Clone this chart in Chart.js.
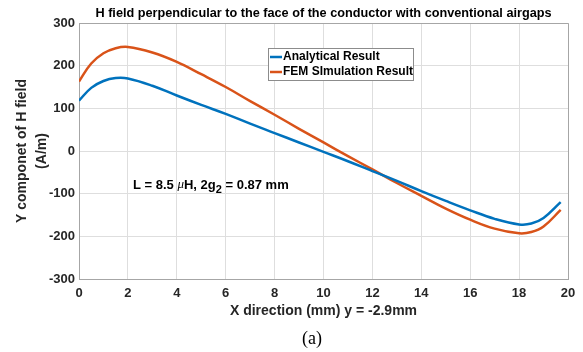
<!DOCTYPE html>
<html>
<head>
<meta charset="utf-8">
<script src="https://cdn.jsdelivr.net/npm/chart.js@4"></script>
<style>
  body { margin: 0; background: #fff; }
  #wrap { position: relative; width: 583px; height: 352px; }
  #caption { position: absolute; left: 0; top: 328px; width: 624px; text-align: center;
             font-family: "Liberation Serif", "DejaVu Serif", serif; font-size: 18px; color: #000; }
</style>
</head>
<body>
<div id="wrap">
  <canvas id="chartH" width="583" height="352"></canvas>
  <div id="caption">(a)</div>
</div>
<script>
// x positions (mm)
const xPos = [0, 0.5, 1, 1.5, 2, 3, 4, 5, 6, 7, 8, 9, 10, 11, 12, 13, 14, 15, 16, 17, 18, 18.5, 19, 19.7];
// Analytical Result
const analytical = [118, 148, 164, 171, 170, 153, 130, 108, 87, 64, 42, 20, -2, -24, -47, -70, -94, -117, -139, -159, -172, -170, -157, -120];
// FEM Simulation Result
const femSim = [163, 205, 229, 241, 244, 231, 209, 180, 150, 117, 85, 52, 20, -12, -43, -75, -105, -135, -161, -182, -193, -190, -177, -138];

const xTicks = [0, 2, 4, 6, 8, 10, 12, 14, 16, 18, 20];
const yTicks = [-300, -200, -100, 0, 100, 200, 300];

const seriesNames = ['Analytical Result', 'FEM SImulation Result'];
const seriesColors = ['#0072BD', '#D95319'];

const titleText = 'H field perpendicular to the face of the conductor with conventional airgaps';
const FONT = '"Liberation Sans", Arial, sans-serif';

const toPoints = (vals) => vals.map((v, i) => ({ x: xPos[i], y: v }));

// title, legend, annotation and the box round the axes
const extrasPlugin = {
  id: 'extras',
  afterDraw(chart) {
    const { ctx, chartArea: a } = chart;
    ctx.save();

    // box (top and right edges)
    ctx.strokeStyle = '#a6a6a6';
    ctx.lineWidth = 1;
    ctx.beginPath();
    ctx.moveTo(a.left, a.top + 0.5);
    ctx.lineTo(a.right + 0.5, a.top + 0.5);
    ctx.lineTo(a.right + 0.5, a.bottom);
    ctx.stroke();

    // title
    ctx.fillStyle = '#000';
    ctx.font = 'bold 12.7px ' + FONT;
    ctx.textAlign = 'center';
    ctx.textBaseline = 'middle';
    ctx.fillText(titleText, (a.left + a.right) / 2, 13);

    // legend
    const lx = 268, ly = 48, lw = 145, lh = 32;
    ctx.fillStyle = '#fff';
    ctx.fillRect(lx, ly, lw, lh);
    ctx.strokeStyle = '#8c8c8c';
    ctx.strokeRect(lx + 0.5, ly + 0.5, lw, lh);
    ctx.font = 'bold 12px ' + FONT;
    ctx.textAlign = 'left';
    chart.data.datasets.forEach((ds, i) => {
      const y = ly + 9 + i * 15;
      ctx.strokeStyle = ds.borderColor;
      ctx.lineWidth = 2.5;
      ctx.beginPath();
      ctx.moveTo(lx + 2, y);
      ctx.lineTo(lx + 14, y);
      ctx.stroke();
      ctx.fillStyle = '#000';
      ctx.fillText(ds.label, lx + 15, y);
    });

    // annotation
    let tx = 133;
    const ty = 185;
    const parts = [
      ['L = 8.5 ', 'bold 13px ' + FONT, 0],
      ['\u03BC', 'italic 13px "Liberation Serif", serif', 0],
      ['H, 2g', 'bold 13px ' + FONT, 0],
      ['2', 'bold 11px ' + FONT, 5],
      [' = 0.87 mm', 'bold 13px ' + FONT, 0]
    ];
    ctx.fillStyle = '#000';
    parts.forEach(([t, f, dy]) => {
      ctx.font = f;
      ctx.fillText(t, tx, ty + dy);
      tx += ctx.measureText(t).width;
    });

    ctx.restore();
  }
};

new Chart(document.getElementById('chartH'), {
  type: 'line',
  data: {
    datasets: [
      { label: seriesNames[0], data: toPoints(analytical), borderColor: seriesColors[0], borderWidth: 2.5,
        pointRadius: 0, tension: 0.4 },
      { label: seriesNames[1], data: toPoints(femSim), borderColor: seriesColors[1], borderWidth: 2.5,
        pointRadius: 0, tension: 0.4 }
    ]
  },
  options: {
    responsive: false,
    animation: false,
    layout: { padding: { top: 23, right: 15, bottom: 31, left: 0 } },
    plugins: {
      legend: { display: false },
      title: { display: false },
      tooltip: { enabled: false }
    },
    scales: {
      x: {
        type: 'linear', min: 0, max: 20,
        afterFit: (s) => { s.height = 42; },
        afterBuildTicks: (s) => { s.ticks = xTicks.map(v => ({ value: v })); },
        ticks: { color: '#262626', font: { family: FONT, size: 13, weight: 'bold' }, padding: 7, maxRotation: 0 },
        grid: { color: '#dedede', drawTicks: false },
        border: { color: '#a6a6a6' },
        title: { display: true, text: 'X direction (mm) y = -2.9mm', color: '#262626',
                 font: { family: FONT, size: 14, weight: 'bold' }, padding: { top: 0, bottom: 1 } }
      },
      y: {
        type: 'linear', min: -300, max: 300,
        afterFit: (s) => { s.width = 79; },
        afterBuildTicks: (s) => { s.ticks = yTicks.map(v => ({ value: v })); },
        ticks: { color: '#262626', font: { family: FONT, size: 13, weight: 'bold' }, padding: 4 },
        grid: { color: '#dedede', drawTicks: false },
        border: { color: '#a6a6a6' },
        title: { display: true, text: ['Y componet of H field', '(A/m)'], color: '#262626',
                 font: { family: FONT, size: 14, weight: 'bold', lineHeight: 1.43 }, padding: { top: 12, bottom: 0 } }
      }
    }
  },
  plugins: [extrasPlugin]
});
</script>
</body>
</html>
